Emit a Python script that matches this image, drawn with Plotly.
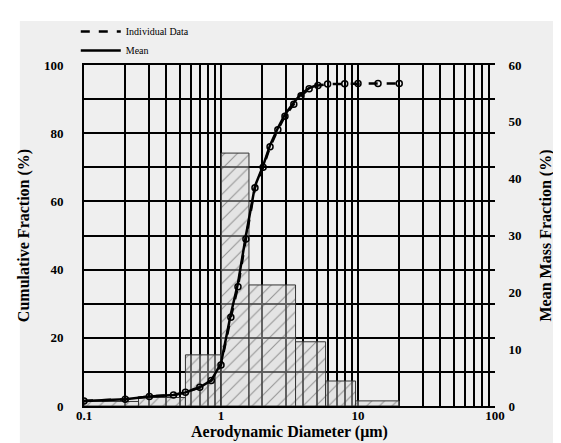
import plotly.graph_objects as go

# ---- data ----
bin_edges = [0.1, 0.25, 0.55, 1.0, 1.6, 3.5, 5.8, 9.6, 20.0]
mass_fraction = [0.8, 1.5, 9.0, 44.5, 21.3, 11.3, 4.4, 0.9]  # right axis (%)

indiv_d = [0.1, 0.2, 0.3, 0.45, 0.55, 0.7, 0.85, 1.0, 1.18, 1.33, 1.52, 1.77,
           2.03, 2.28, 2.6, 2.93, 3.4, 3.84, 4.4, 5.1, 6.0, 8.0, 10.0, 14.0, 20.0]
indiv_cum = [1.5, 2.0, 2.8, 3.2, 4.0, 5.5, 7.5, 12.0, 26.0, 35.0, 49.0, 64.0,
             70.0, 76.0, 81.0, 85.0, 88.5, 91.0, 93.0, 94.0, 94.4, 94.5, 94.6, 94.6, 94.6]
mean_d = [0.1, 0.2, 0.3, 0.45, 0.55, 0.7, 0.85, 1.0, 1.18, 1.33, 1.52, 1.77,
          2.03, 2.28, 2.6, 2.93, 3.4, 3.84, 4.4, 5.1]
mean_cum = [1.5, 2.0, 2.8, 3.2, 4.0, 5.5, 7.5, 12.5, 27.0, 36.0, 50.0, 64.5,
            70.5, 76.5, 81.5, 85.5, 89.0, 91.5, 93.2, 94.2]

x_tickvals = [m * 10 ** e for e in (-1, 0, 1) for m in range(1, 10)] + [100]
x_ticktext = ["0.1" if v == 0.1 else "1" if v == 1 else "10" if v == 10 else "100" if v == 100 else ""
              for v in x_tickvals]
y_left_vals = list(range(0, 101, 10))
y_left_text = [str(v) if v % 20 == 0 else "" for v in y_left_vals]
y_right_vals = list(range(0, 61, 10))

FONT = "Liberation Serif"
TICKFONT = dict(family=FONT, size=13, color="black", weight="bold")

fig = go.Figure()

# histogram bars (right axis, primary y)
for i, v in enumerate(mass_fraction):
    x0, x1 = bin_edges[i], bin_edges[i + 1]
    fig.add_trace(go.Scatter(
        x=[x0, x0, x1, x1, x0], y=[0, v, v, 0, 0],
        mode="lines", fill="toself",
        line=dict(color="#333333", width=1),
        fillcolor="rgba(200,200,200,0.45)",
        fillpattern=dict(shape="/", fgcolor="#444444", bgcolor="rgba(215,215,215,0.45)",
                         size=9, solidity=0.12),
        showlegend=False, hoverinfo="skip", yaxis="y", xaxis="x"))

# cumulative curves (left axis, y2)
fig.add_trace(go.Scatter(
    x=indiv_d, y=indiv_cum, mode="lines", name="Individual Data",
    line=dict(color="black", width=2.5, dash="dash"), yaxis="y2"))
fig.add_trace(go.Scatter(
    x=indiv_d, y=indiv_cum, mode="markers", showlegend=False,
    marker=dict(symbol="circle-open", size=6, color="black", line=dict(width=1.5)),
    yaxis="y2"))
fig.add_trace(go.Scatter(
    x=mean_d, y=mean_cum, mode="lines", name="Mean",
    line=dict(color="black", width=2.5), yaxis="y2"))

fig.update_layout(
    width=561, height=443,
    margin=dict(l=76, r=74, t=57, b=45, autoexpand=False),
    paper_bgcolor="white", plot_bgcolor="#fbfbfb",
    font=dict(family=FONT, color="black", size=13),
    xaxis=dict(type="log", range=[-1, 2], tickvals=x_tickvals, ticktext=x_ticktext,
               showgrid=True, gridcolor="black", gridwidth=2, ticks="",
               ticklabelstandoff=-4,
               showline=True, mirror=True, linecolor="black", linewidth=2,
               tickfont=TICKFONT),
    yaxis=dict(side="right", range=[0, 60], tickvals=y_right_vals, showgrid=False,
               zeroline=False, ticks="outside", ticklen=10, tickcolor="rgba(0,0,0,0)",
               tickfont=TICKFONT,
               title=dict(text="<b>Mean Mass Fraction (%)</b>", standoff=19,
                          font=dict(family=FONT, size=16))),
    yaxis2=dict(overlaying="y", side="left", range=[0, 100], tickvals=y_left_vals,
                ticktext=y_left_text, showgrid=True, gridcolor="black", gridwidth=2,
                zeroline=False, ticks="outside", ticklen=16, tickcolor="rgba(0,0,0,0)",
                showline=True, linecolor="black", linewidth=2,
                tickfont=TICKFONT,
                title=dict(text="<b>Cumulative Fraction (%)</b>", standoff=10,
                           font=dict(family=FONT, size=16))),
    legend=dict(x=-0.02, y=1.0, xanchor="left", yanchor="bottom",
                bgcolor="rgba(0,0,0,0)", font=dict(family=FONT, size=10),
                tracegroupgap=0, itemwidth=40),
    annotations=[dict(text="<b>Aerodynamic Diameter (μm)</b>", xref="paper", yref="paper",
                      x=0.5, y=-0.075, xanchor="center", yanchor="middle", showarrow=False,
                      font=dict(family=FONT, size=16, color="black"))],
    shapes=[dict(type="rect", xref="paper", yref="paper", x0=-0.156, x1=1.153,
                 y0=-0.132, y1=1.129, fillcolor="#efefef", line=dict(width=0),
                 layer="below")],
)

fig.write_html("out.html")
